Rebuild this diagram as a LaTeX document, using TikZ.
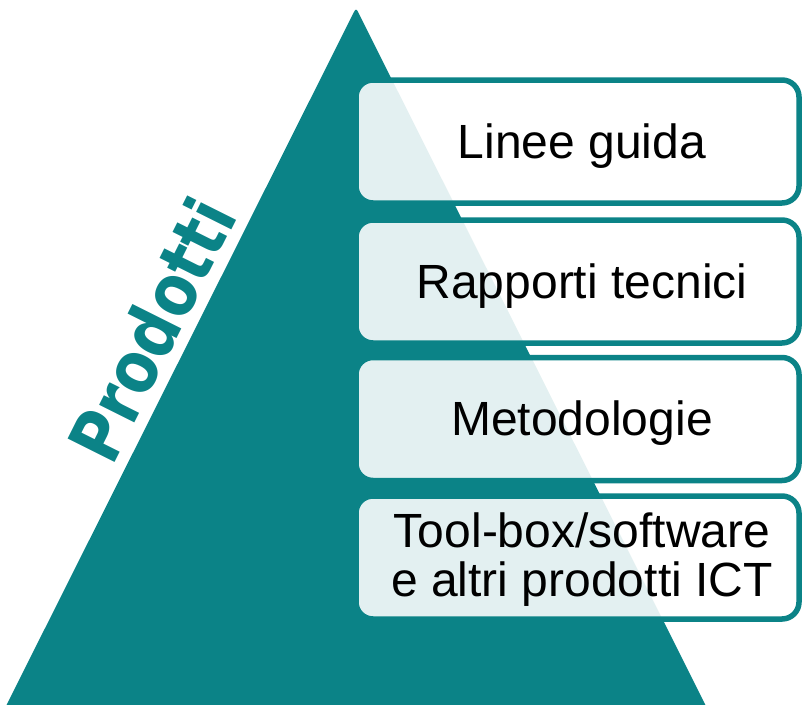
\documentclass[tikz,border=0pt]{standalone}
\usepackage{fontspec}
\setmainfont{Liberation Sans}
\newfontfamily\prodfont{DejaVu Sans}
\definecolor{teal}{HTML}{0B8387}
\tikzset{
  pbox/.style={draw=teal, line width=5.5pt, fill=white, fill opacity=0.885, draw opacity=1,
    rounded corners=17pt, minimum width=443pt, minimum height=123pt, inner sep=0pt},
  ptext/.style={font=\fontsize{48}{49}\selectfont, text=black, inner sep=0pt, align=center},
}
\begin{document}
\begin{tikzpicture}[x=1pt,y=-1pt]
\useasboundingbox (0,0) rectangle (802,704);
\fill[teal, rounded corners=3pt] (356,8) -- (709,712) -- (3,712) -- cycle;
\node[pbox] (b1) at (577.5,141.5) {};
\node[pbox] (b2) at (577.5,281.5) {};
\node[pbox] (b3) at (577.5,419) {};
\node[pbox] (b4) at (577.5,557.5) {};
\node[ptext, anchor=base] (t1) at (582,158) {Linee guida};
\node[ptext, anchor=base] (t2) at (582,298) {Rapporti tecnici};
\node[ptext, anchor=base] (t3) at (582,435.5) {Metodologie};
\node[ptext] (t4) at (582,560) {Tool-box/software\\e altri prodotti ICT};
\node[rotate=63.43, anchor=base west, inner sep=0pt, text=teal,
  font=\prodfont\bfseries\fontsize{72}{72}\selectfont] (p) at (112,468) {\scalebox{0.85}[1]{Prodotti}};
\end{tikzpicture}
\end{document}
